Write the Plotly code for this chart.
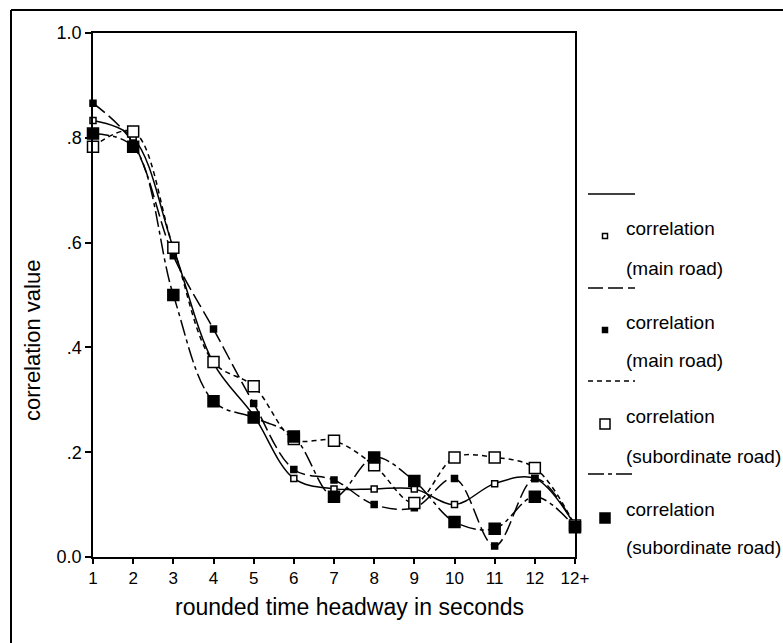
import plotly.graph_objects as go

categories = ["1", "2", "3", "4", "5", "6", "7", "8", "9", "10", "11", "12", "12+"]
y_ticks = [0.0, 0.2, 0.4, 0.6, 0.8, 1.0]
y_ticktext = ["0.0", ".2", ".4", ".6", ".8", "1.0"]

main_open = [0.833, 0.80, 0.59, 0.37, 0.27, 0.15, 0.13, 0.13, 0.13, 0.10, 0.14, 0.15, 0.06]
main_filled = [0.866, 0.79, 0.575, 0.435, 0.293, 0.167, 0.147, 0.10, 0.094, 0.15, 0.021, 0.15, 0.06]
sub_open = [0.783, 0.812, 0.59, 0.372, 0.326, 0.225, 0.222, 0.175, 0.103, 0.19, 0.19, 0.17, 0.06]
sub_filled = [0.808, 0.783, 0.50, 0.297, 0.266, 0.23, 0.115, 0.19, 0.145, 0.067, 0.054, 0.115, 0.057]

legend_labels = [("correlation", "(main road)"), ("correlation", "(main road)"),
                 ("correlation", "(subordinate road)"), ("correlation", "(subordinate road)")]
x_title = "rounded time headway in seconds"
y_title = "correlation value"

FONT = "Liberation Sans, Arial, Helvetica, sans-serif"
W, H = 783, 643
L, R, T, B = 93, 575, 33, 557

series = [
    dict(y=main_open, dash="solid", sym="square", size=6, fill="white"),
    dict(y=main_filled, dash="15px,5px", sym="square", size=6, fill="black"),
    dict(y=sub_open, dash="5px,4px", sym="square", size=11, fill="white"),
    dict(y=sub_filled, dash="16px,4px,4px,4px", sym="square", size=11, fill="black"),
]

fig = go.Figure()
for s in series:
    fig.add_trace(go.Scatter(x=categories, y=s["y"], mode="lines",
                             line=dict(color="black", width=1.5, dash=s["dash"], shape="spline", smoothing=1.0),
                             showlegend=False, cliponaxis=False, hoverinfo="skip"))
for s in series:
    fig.add_trace(go.Scatter(x=categories, y=s["y"], mode="markers",
                             marker=dict(symbol=s["sym"], size=s["size"], color=s["fill"],
                                         line=dict(color="black", width=1.5)),
                             showlegend=False, cliponaxis=False))

def px(xp):
    return (xp - L) / (R - L)

def py(yp):
    return (B - yp) / (B - T)

shapes = []
annotations = []
# outer frame
shapes.append(dict(type="line", xref="paper", yref="paper", x0=px(11), x1=px(790), y0=py(10), y1=py(10),
                   line=dict(color="black", width=2)))
shapes.append(dict(type="line", xref="paper", yref="paper", x0=px(11), x1=px(11), y0=py(10), y1=py(650),
                   line=dict(color="black", width=2)))

# axis titles
annotations.append(dict(xref="paper", yref="paper", x=px(349), y=py(607), text=x_title, showarrow=False,
                        xanchor="center", yanchor="middle", font=dict(family=FONT, size=23, color="black")))
annotations.append(dict(xref="paper", yref="paper", x=px(32), y=py(341), text=y_title, showarrow=False,
                        textangle=-90, xanchor="center", yanchor="middle",
                        font=dict(family=FONT, size=22, color="black")))

# legend
line_y = [194, 288, 381, 474]
mark_y = [236, 330, 424, 518]
text1_y = [229, 322, 416, 509]
text2_y = [268, 361, 456, 547]
for i, s in enumerate(series):
    shapes.append(dict(type="line", xref="paper", yref="paper", x0=px(588), x1=px(635),
                       y0=py(line_y[i]), y1=py(line_y[i]),
                       line=dict(color="black", width=1.5, dash=s["dash"])))
    half = (s["size"] - 1) / 2
    shapes.append(dict(type="rect", xref="paper", yref="paper",
                       x0=px(605 - half), x1=px(605 + half),
                       y0=py(mark_y[i] + half), y1=py(mark_y[i] - half),
                       fillcolor=s["fill"], line=dict(color="black", width=1.5)))
    annotations.append(dict(xref="paper", yref="paper", x=px(624), y=py(text1_y[i]), text=legend_labels[i][0],
                            showarrow=False, xanchor="left", yanchor="middle",
                            font=dict(family=FONT, size=19, color="black")))
    annotations.append(dict(xref="paper", yref="paper", x=px(624), y=py(text2_y[i]), text=legend_labels[i][1],
                            showarrow=False, xanchor="left", yanchor="middle",
                            font=dict(family=FONT, size=19, color="black")))

fig.update_layout(
    width=W, height=H,
    margin=dict(l=L, r=W - R, t=T, b=H - B, pad=0),
    paper_bgcolor="white", plot_bgcolor="white",
    font=dict(family=FONT, color="black"),
    shapes=shapes, annotations=annotations,
    xaxis=dict(type="category", range=[0, 12], showgrid=False, zeroline=False,
               showline=True, linecolor="black", linewidth=1.5, mirror=True,
               ticks="outside", ticklen=5, tickcolor="black", tickwidth=1.5,
               tickfont=dict(size=17, family=FONT, color="black")),
    yaxis=dict(range=[0, 1], showgrid=False, zeroline=False,
               showline=True, linecolor="black", linewidth=1.5, mirror=True,
               ticks="outside", ticklen=6, tickcolor="black", tickwidth=1.5,
               tickvals=y_ticks, ticktext=y_ticktext,
               tickfont=dict(size=18, family=FONT, color="black")),
)

fig.write_html("out.html")
